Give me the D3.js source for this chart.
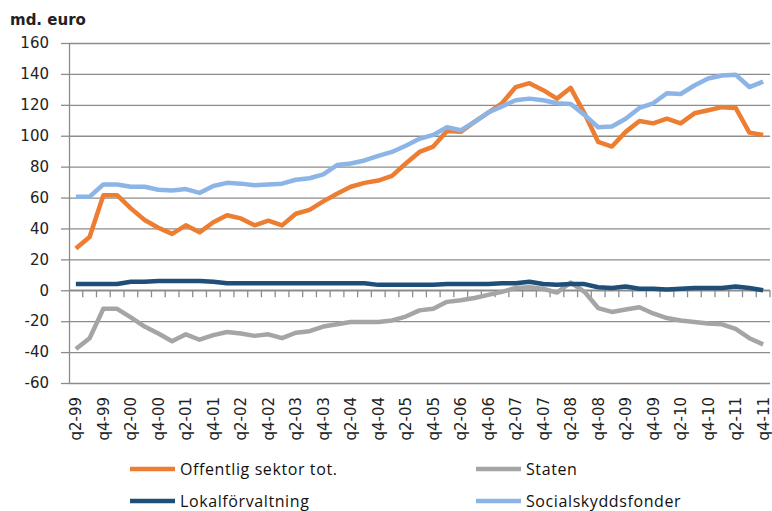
<!DOCTYPE html>
<html>
<head>
<meta charset="utf-8">
<script src="https://cdn.jsdelivr.net/npm/d3@7"></script>
<style>
  body { margin: 0; background: #fff; }
  svg { display: block; }
</style>
</head>
<body>
<svg id="chart" width="772" height="511"></svg>
<script>
// quarters, q2-99 .. q4-11
const quarters = [
  "q2-99", "q3-99", "q4-99",
  "q1-00", "q2-00", "q3-00", "q4-00",
  "q1-01", "q2-01", "q3-01", "q4-01",
  "q1-02", "q2-02", "q3-02", "q4-02",
  "q1-03", "q2-03", "q3-03", "q4-03",
  "q1-04", "q2-04", "q3-04", "q4-04",
  "q1-05", "q2-05", "q3-05", "q4-05",
  "q1-06", "q2-06", "q3-06", "q4-06",
  "q1-07", "q2-07", "q3-07", "q4-07",
  "q1-08", "q2-08", "q3-08", "q4-08",
  "q1-09", "q2-09", "q3-09", "q4-09",
  "q1-10", "q2-10", "q3-10", "q4-10",
  "q1-11", "q2-11", "q3-11", "q4-11"
];

const offentlig = [27, 34.5, 61.5, 61.5, 53, 45.5, 40.5, 36.5, 42, 37.5,
  44, 48.5, 46.5, 42, 45, 42, 49.5, 52, 57.5, 62.5,
  67, 69.5, 71, 74, 82, 89.5, 93, 103, 102.5, 109,
  115, 121, 131.5, 134, 129.5, 124, 131, 114.5, 96, 93,
  102.5, 109.5, 108, 111, 108, 114.5, 116.5, 118.5, 118, 102, 100.5];

const staten = [-38, -31, -12, -12, -17.5, -23.5, -28, -33, -28.5, -32,
  -29, -27, -28, -29.5, -28.5, -31, -27.5, -26.5, -23.5, -22,
  -20.5, -20.5, -20.5, -19.5, -17, -13, -12, -7.5, -6.5, -5,
  -3, -1, 1.5, 2, 1, -1.5, 5, -1, -11.5, -14,
  -12.5, -11, -15, -18, -19.5, -20.5, -21.5, -22, -25, -31, -35];

const lokal = [4, 4, 4, 4, 5.5, 5.5, 6, 6, 6, 6,
  5.5, 4.5, 4.5, 4.5, 4.5, 4.5, 4.5, 4.5, 4.5, 4.5,
  4.5, 4.5, 3.5, 3.5, 3.5, 3.5, 3.5, 4, 4, 4,
  4, 4.5, 4.5, 5.5, 4, 3.5, 4, 4, 2, 1.5,
  2.5, 1, 1, 0.5, 1, 1.5, 1.5, 1.5, 2.5, 1.5, 0];

const social = [60.5, 60.5, 68.5, 68.5, 67, 67, 65, 64.5, 65.5, 63,
  67.5, 69.5, 69, 68, 68.5, 69, 71.5, 72.5, 75, 81,
  82, 84, 87, 89.5, 93.5, 98, 100.5, 105.5, 103.5, 109,
  115, 119, 123, 124, 123, 121, 120.5, 113.5, 105.5, 106,
  111, 118, 121, 127.5, 127, 132.5, 137, 139, 139.5, 131.5, 135];

const yTicks = [-60, -40, -20, 0, 20, 40, 60, 80, 100, 120, 140, 160];

const series = [
  { name: "Offentlig sektor tot.", values: offentlig, color: "#ED7D31" },
  { name: "Staten", values: staten, color: "#A5A5A5" },
  { name: "Lokalförvaltning", values: lokal, color: "#1F4E79" },
  { name: "Socialskyddsfonder", values: social, color: "#8DB4E6" }
];

const svg = d3.select("#chart");
const plotL = 69, plotR = 770, plotT = 43, plotB = 383;
const gridColor = "#8c8c8c";

const x = d3.scaleBand().domain(quarters).range([plotL, plotR]).padding(0);
const y = d3.scaleLinear().domain([-60, 160]).range([plotB, plotT]);

// gridlines
svg.append("g")
  .attr("transform", `translate(${plotL},0)`)
  .call(d3.axisLeft(y).tickValues(yTicks).tickSize(-(plotR - plotL)).tickFormat(""))
  .call(g => g.select(".domain").remove())
  .call(g => g.selectAll("line").attr("stroke", gridColor).attr("stroke-width", 1.3));

// y axis with labels (plain hyphen for negatives, like the original)
svg.append("g")
  .attr("transform", `translate(${plotL},0)`)
  .call(d3.axisLeft(y).tickValues(yTicks).tickSize(8).tickPadding(12).tickSizeOuter(0)
    .tickFormat(d => String(d)))
  .call(g => g.select(".domain").attr("stroke", gridColor).attr("stroke-width", 1.3))
  .call(g => g.selectAll("line").attr("stroke", gridColor).attr("stroke-width", 1.3))
  .call(g => g.selectAll("text")
    .attr("font-family", "DejaVu Sans, sans-serif")
    .attr("font-size", 15)
    .attr("fill", "#222"));

// zero line with ticks between categories
svg.append("line")
  .attr("x1", plotL).attr("x2", plotR)
  .attr("y1", y(0)).attr("y2", y(0))
  .attr("stroke", gridColor).attr("stroke-width", 1.3);

svg.append("g")
  .selectAll("line")
  .data(quarters)
  .join("line")
  .attr("x1", d => x(d) + x.bandwidth())
  .attr("x2", d => x(d) + x.bandwidth())
  .attr("y1", y(0))
  .attr("y2", y(0) + 7)
  .attr("stroke", gridColor)
  .attr("stroke-width", 1.3);

// category labels at the bottom
svg.append("g")
  .attr("transform", `translate(0,${plotB})`)
  .call(d3.axisBottom(x).tickValues(quarters.filter((d, i) => i % 2 === 0)).tickSize(0))
  .call(g => g.select(".domain").remove())
  .call(g => g.selectAll("text")
    .attr("transform", "rotate(-90)")
    .attr("x", -14)
    .attr("y", 0)
    .attr("dy", "0.36em")
    .attr("text-anchor", "end")
    .attr("font-family", "DejaVu Sans, sans-serif")
    .attr("font-size", 15)
    .attr("fill", "#222"));

// lines
const line = d3.line()
  .x((d, i) => x(quarters[i]) + x.bandwidth() / 2)
  .y(d => y(d));

svg.append("g")
  .selectAll("path")
  .data(series)
  .join("path")
  .attr("d", d => line(d.values))
  .attr("fill", "none")
  .attr("stroke", d => d.color)
  .attr("stroke-width", 4.5)
  .attr("stroke-linejoin", "round");

// unit title
svg.append("text")
  .attr("x", 10).attr("y", 25)
  .attr("font-family", "DejaVu Sans, sans-serif")
  .attr("font-size", 15)
  .attr("font-weight", "bold")
  .attr("fill", "#222")
  .text("md. euro");

// legend
const legendPos = [[130, 469], [476, 469], [130, 501], [476, 501]];
const legend = svg.append("g")
  .selectAll("g")
  .data(series)
  .join("g")
  .attr("transform", (d, i) => `translate(${legendPos[i][0]},${legendPos[i][1]})`);

legend.append("line")
  .attr("x1", 0).attr("x2", 45)
  .attr("stroke", d => d.color)
  .attr("stroke-width", 4.5);

legend.append("text")
  .attr("x", 50)
  .attr("dy", "0.35em")
  .attr("font-family", "Open Sans, sans-serif")
  .attr("font-size", 16)
  .attr("letter-spacing", 0.6)
  .attr("fill", "#111")
  .text(d => d.name);
</script>
</body>
</html>
